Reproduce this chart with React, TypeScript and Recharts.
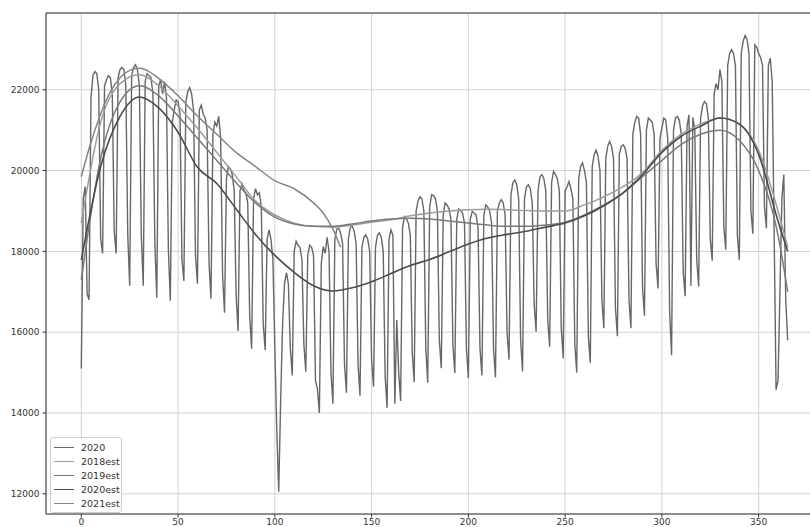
import React from 'react';
import { LineChart, Line, XAxis, YAxis, CartesianGrid, Legend, ReferenceArea } from 'recharts';

// daily values for 2020, one row per week (first row: Wed 1 Jan .. Sun 5 Jan, last row: Mon 28 .. Thu 31 Dec)
const daily2020 = [
  15100, 19300, 19600, 16950, 16800,
  21800, 22350, 22450, 22400, 22000, 18300, 17950,
  22100, 22250, 22350, 22300, 21900, 18500, 17950,
  22300, 22500, 22550, 22500, 22100, 18400, 17150,
  22350, 22550, 22620, 22500, 22100, 18400, 17150,
  22200, 22400, 22350, 22300, 21900, 18200, 16850,
  22100, 22250, 21900, 22200, 21800, 18000, 16780,
  21200, 21500, 21750, 21700, 21400, 17800, 17270,
  21700, 21950, 22050, 21900, 21500, 17900, 17200,
  21500, 21620, 21400, 21300, 21000, 17700, 16830,
  20900, 21200, 21100, 21340, 20800, 17400, 16480,
  19800, 20100, 20050, 19900, 19500, 16900, 16030,
  19500, 19670, 19500, 19450, 19200, 16400, 15590,
  19300, 19550, 19400, 19450, 19100, 16200, 15560,
  18300, 18530, 18300, 17800, 15600, 13600, 12050,
  14300, 16200, 17200, 17470, 17200, 15600, 14930,
  18000, 18250, 18150, 18100, 17800, 15700, 15020,
  17900, 18150, 18100, 17900, 14800, 14600, 14000,
  17700, 18120, 17950, 18350, 18000, 15000, 14230,
  18300, 18550, 18575, 18450, 18200, 15200, 14500,
  18300, 18600, 18620, 18500, 18200, 15200, 14430,
  18100, 18350, 18410, 18300, 18000, 15300, 14650,
  18100, 18400, 18460, 18350, 18000, 14900, 14130,
  18300, 18535, 18400, 14230, 16300, 15000, 14300,
  18600, 18860, 18800, 18700, 18400, 15500, 14760,
  19000, 19250, 19350, 19300, 19000, 15600, 14750,
  19100, 19400, 19380, 19300, 19000, 15800, 15110,
  18900, 19200, 19150, 19050, 18800, 15700, 14990,
  18800, 19050, 19000, 18950, 18700, 15600, 14860,
  18800, 18990, 18950, 18900, 18600, 15600, 14930,
  18900, 19150, 19100, 19000, 18700, 15600, 14880,
  19000, 19200, 19280, 19200, 18900, 16000, 15320,
  19400, 19700, 19770, 19650, 19300, 15800, 15030,
  19300, 19600, 19650, 19550, 19200, 16700, 16010,
  19500, 19850, 19900, 19800, 19500, 16300, 15640,
  19700, 19980, 19900, 19800, 19500, 16100, 15350,
  19500, 19600, 19730, 19550, 19300, 15700, 15000,
  19800, 20100, 20190, 20000, 19700, 15900, 15240,
  20100, 20400, 20510, 20350, 20000, 16800, 16100,
  20300, 20600, 20720, 20600, 20300, 16600, 15900,
  20400, 20600, 20640, 20550, 20300, 16800, 16100,
  20900, 21200, 21340, 21300, 20900, 17100, 16410,
  21000, 21300, 21250, 21200, 20900, 17700, 17080,
  20800, 21050, 21300, 21250, 20800, 16500, 15430,
  21000, 21300, 21340, 21250, 20900, 17500, 16890,
  21100, 21380, 17150, 21320, 21000, 17800, 17130,
  21300, 21600, 21710, 21650, 21300, 18300, 17770,
  21900, 22150, 22000, 22500, 22200, 18600, 18040,
  22600, 22900, 22990, 22900, 22600, 18400, 17790,
  22900, 23200, 23340, 23250, 22900, 19000, 18435,
  23110, 23050, 22900, 22800, 22600, 19100, 18575,
  22600, 22780, 22200, 18500, 14575, 14800, 17000,
  19300, 19900, 16800, 15800,
];

// fitted curves, read every 10 days
const estDays = [0, 10, 20, 30, 40, 50, 60, 70, 80, 90, 100, 110, 120, 130, 140, 150, 160, 170, 180, 190,
  200, 210, 220, 230, 240, 250, 260, 270, 280, 290, 300, 310, 320, 330, 340, 350, 360, 365];

const est2018 = [18700, 21200, 22150, 22370, 22100, 21600, 21050, 20450, 19850, 19250, 18900, 18700, 18620, 18600,
  18650, 18720, 18780, 18880, 18950, 19000, 19030, 19040, 19030, 19010, 19000, 19000, 19150, 19350, 19600, 19950,
  20500, 20900, 21150, 21300, 21150, 20500, 19000, 18100];

const est2019 = [17300, 20300, 21700, 22100, 21850, 21350, 20800, 20250, 19700, 19200, 18850, 18680, 18620, 18620,
  18680, 18750, 18800, 18820, 18800, 18750, 18700, 18650, 18620, 18620, 18650, 18720, 18900, 19150, 19450, 19850,
  20250, 20650, 20900, 21000, 20750, 20000, 18400, 17000];

const est2020 = [17790, 20100, 21340, 21820, 21550, 20950, 20080, 19680, 19050, 18420, 17900, 17480, 17150, 17020,
  17100, 17250, 17450, 17650, 17800, 17990, 18180, 18330, 18420, 18500, 18600, 18700, 18880, 19130, 19450, 19900,
  20450, 20850, 21100, 21300, 21150, 20400, 18750, 18000];

// 2021 only runs to mid May
const est2021Days = [0, 5, 10, 15, 20, 25, 30, 35, 40, 50, 60, 70, 80, 90, 100, 110, 120, 125, 130, 134];
const est2021 = [19850, 20700, 21400, 21950, 22300, 22480, 22530, 22450, 22280, 21850, 21350, 20900, 20450, 20100,
  19750, 19550, 19200, 18950, 18550, 18100];

const X_TICKS = [0, 50, 100, 150, 200, 250, 300, 350];
const Y_TICKS = [12000, 14000, 16000, 18000, 20000, 22000];

const series = [
  { name: '2020', color: '#676767', width: 1.4 },
  { name: '2018est', color: '#9c9c9c', width: 1.5 },
  { name: '2019est', color: '#7a7a7a', width: 1.5 },
  { name: '2020est', color: '#4b4b4b', width: 1.6 },
  { name: '2021est', color: '#858585', width: 1.5 },
];

const toPoints = (days: number[], vals: number[]) => vals.map((v, i) => ({ day: days[i], value: v }));

const dailyData = daily2020.map((v, i) => ({ day: i, value: v }));
const lineData = [
  dailyData,
  toPoints(estDays, est2018),
  toPoints(estDays, est2019),
  toPoints(estDays, est2020),
  toPoints(est2021Days, est2021),
];

const tickStyle = { fontSize: 9, fill: '#333', fontFamily: 'DejaVu Sans' };

function LegendBox() {
  return (
    <div style={{
      border: '1px solid #cfcfcf', borderRadius: 3, background: 'rgba(255,255,255,0.85)',
      padding: '2px 6px 2px 3px', fontFamily: 'DejaVu Sans', fontSize: 9.5, color: '#333',
      width: 61, textAlign: 'left', boxSizing: 'content-box',
    }}>
      {series.map(s => (
        <div key={s.name} style={{ display: 'flex', alignItems: 'center', justifyContent: 'flex-start', height: 14 }}>
          <span style={{ display: 'inline-block', width: 20, height: 0, borderTop: `1.5px solid ${s.color}`, marginRight: 7, flexShrink: 0 }} />
          <span style={{ whiteSpace: 'nowrap' }}>{s.name}</span>
        </div>
      ))}
    </div>
  );
}

export default function App() {
  return (
    <div style={{ position: 'absolute', left: 0, top: 0, width: 810, height: 527, overflow: 'hidden', background: '#fff' }}>
      <LineChart width={824} height={527} margin={{ top: 13, right: 1, left: 0, bottom: 0 }}>
        <CartesianGrid stroke="#d2d2d2" strokeWidth={1} />
        <XAxis
          type="number"
          dataKey="day"
          domain={[-18.25, 383.25]}
          ticks={X_TICKS}
          allowDataOverflow
          height={13}
          tickSize={3.5}
          tickMargin={1}
          tick={tickStyle}
          axisLine={false}
          tickLine={{ stroke: '#333' }}
        />
        <YAxis
          type="number"
          domain={[11500, 23900]}
          ticks={Y_TICKS}
          allowDataOverflow
          width={46}
          tickSize={3.5}
          tickMargin={3}
          tick={tickStyle}
          axisLine={false}
          tickLine={{ stroke: '#333' }}
        />
        <ReferenceArea x1={-18.25} x2={383.25} y1={11500} y2={23900} fill="none" stroke="#333" strokeWidth={1} />
        {series.map((s, i) => (
          <Line
            key={s.name}
            data={lineData[i]}
            dataKey="value"
            name={s.name}
            type={i === 0 ? 'linear' : 'monotone'}
            stroke={s.color}
            strokeWidth={s.width}
            dot={false}
            isAnimationActive={false}
          />
        ))}
        <Legend
          layout="horizontal"
          verticalAlign="middle"
          align="center"
          wrapperStyle={{ left: 50, top: 437, width: 'auto', textAlign: 'left' }}
          content={() => <LegendBox />}
        />
      </LineChart>
    </div>
  );
}
